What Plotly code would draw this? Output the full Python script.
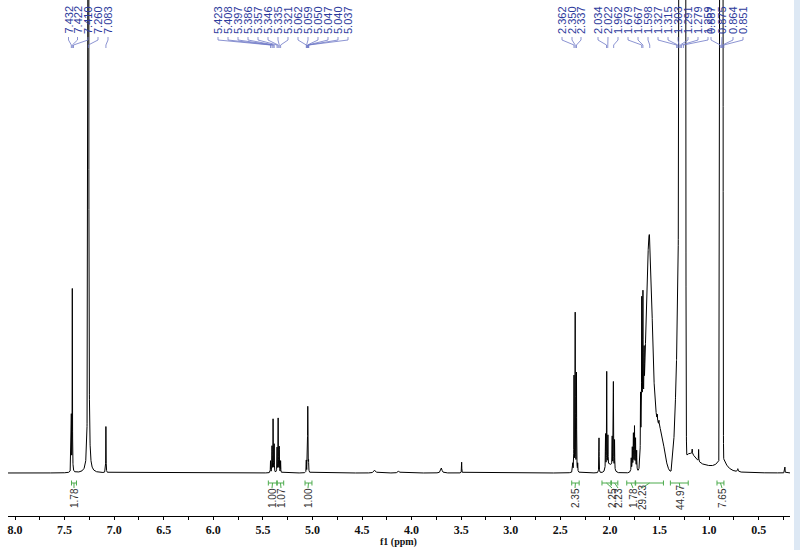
import numpy as np
import plotly.graph_objects as go

# ---------------- data ----------------
# sharp (Lorentzian) lines: position (ppm), height, half width (ppm)
line_ppm = [7.432, 7.422, 7.260, 7.083,
            5.423, 5.408, 5.397, 5.386, 5.357, 5.346, 5.335, 5.321,
            5.062, 5.050, 5.047, 5.040,
            4.372, 4.130, 3.700, 3.495,
            2.374, 2.362, 2.350, 2.337, 2.325, 2.110,
            2.044, 2.032, 2.020, 1.977, 1.965, 1.953,
            1.785, 1.774, 1.763, 1.752, 1.741, 1.730,
            1.691, 1.679, 1.667, 1.655,
            1.540, 1.522, 1.505, 1.170, 1.105,
            0.870, 0.710, 0.235]
line_height = [55, 183, 6000, 47,
               12, 26, 54, 28, 25, 54, 26, 12,
               12, 22, 62, 18,
               3, 2, 5, 11,
               8, 95, 158, 100, 8, 35,
               35, 96, 30, 30, 88, 30,
               12, 20, 32, 38, 28, 18,
               55, 120, 110, 45,
               8, 6, 5, 5, 12,
               14, 3, 6]
line_width = [0.0015, 0.0015, 0.0012, 0.0015,
              0.0015, 0.0015, 0.0015, 0.0015, 0.0015, 0.0015, 0.0015, 0.0015,
              0.0015, 0.0015, 0.0015, 0.0015,
              0.01, 0.01, 0.008, 0.0015,
              0.0015, 0.0015, 0.0015, 0.0015, 0.0015, 0.0015,
              0.0015, 0.0015, 0.0015, 0.0015, 0.0015, 0.0015,
              0.0015, 0.0015, 0.0015, 0.0015, 0.0015, 0.0015,
              0.0015, 0.0015, 0.0015, 0.0015,
              0.002, 0.002, 0.002, 0.002, 0.0015,
              0.05, 0.004, 0.0015]

# broad (Gaussian) components: position (ppm), height, sigma (ppm)
band_ppm = [2.000, 1.755, 1.672, 1.640, 1.605, 1.550, 1.480,
            1.350, 1.330, 1.315, 1.302,
            1.290, 1.278, 1.266, 1.254, 1.244,
            1.200, 1.080, 0.887, 0.875, 0.864]
band_height = [8, 8, 55, 25, 220, 45, 30,
               35, 90, 170, 400,
               2500, 2500, 2500, 2500, 2500,
               15, 7, 2800, 3500, 2600]
band_sigma = [0.03, 0.02, 0.014, 0.01, 0.028, 0.04, 0.035,
              0.012, 0.008, 0.006, 0.005,
              0.005, 0.005, 0.005, 0.005, 0.005,
              0.06, 0.12, 0.003, 0.003, 0.003]

# peak-pick labels (top)
pick_labels = ["7.432", "7.422", "7.410", "7.260", "7.083",
               "5.423", "5.408", "5.397", "5.386", "5.357", "5.346", "5.335",
               "5.321", "5.062", "5.059", "5.050", "5.047", "5.040", "5.037",
               "2.362", "2.350", "2.337", "2.034", "2.022", "1.962", "1.679",
               "1.667", "1.598", "1.327", "1.315", "1.303", "1.291", "1.279",
               "1.259", "0.887", "0.875", "0.864", "0.851"]

# integrals
int_from = [7.430, 5.445, 5.355, 5.075, 2.385, 2.080, 1.985, 1.830, 1.740, 1.390, 0.920]
int_to = [7.380, 5.360, 5.290, 5.005, 2.310, 1.990, 1.920, 1.745, 1.460, 1.210, 0.850]
int_values = ["1.78", "1.00", "1.07", "1.00", "2.35", "2.25", "2.23", "1.78",
              "29.23", "44.97", "7.65"]

# axis ticks
tick_values = [8.0, 7.5, 7.0, 6.5, 6.0, 5.5, 5.0, 4.5, 4.0, 3.5, 3.0, 2.5, 2.0, 1.5, 1.0, 0.5]
tick_labels = ["8.0", "7.5", "7.0", "6.5", "6.0", "5.5", "5.0", "4.5", "4.0",
               "3.5", "3.0", "2.5", "2.0", "1.5", "1.0", "0.5"]
minor_tick_values = [7.75, 7.25, 6.75, 6.25, 5.75, 5.25, 4.75, 4.25, 3.75,
                     3.25, 2.75, 2.25, 1.75, 1.25, 0.75, 0.25]

# ---------------- layout geometry ----------------
X_LEFT, X_RIGHT = 8.0706, 0.1836
Y_BOTTOM, Y_TOP = -43, 473
PXPP = 99.15


def ppm_to_px(p):
    return 15 + (8 - p) * PXPP


def px_to_ppm(px):
    return 8 - (px - 15) / PXPP


def py_to_y(py):
    return Y_TOP - py


pick_px = [68.5, 77.5, 88, 98, 108] + [218 + 10 * i for i in range(14)] + \
          [562, 572, 581, 598, 608, 618, 628, 638, 648, 658, 668, 678, 688, 698,
           708, 711, 722, 733, 743]
int_label_px = [74, 272, 281, 308, 575, 612, 618, 633, 642, 680, 722]

# ---------------- spectrum ----------------
x = np.arange(X_RIGHT, X_LEFT, 0.0004)
y = np.zeros_like(x)
for p, h, w in zip(line_ppm, line_height, line_width):
    y += h / (1 + ((x - p) / w) ** 2)
for p, h, s in zip(band_ppm, band_height, band_sigma):
    y += h * np.exp(-0.5 * ((x - p) / s) ** 2)

fig = go.Figure()
fig.add_trace(go.Scatter(x=x, y=y, mode="lines",
                         line=dict(color="#000000", width=1),
                         hoverinfo="skip"))

# connectors for peak labels
cx, cy = [], []
for lab, px in zip(pick_labels, pick_px):
    ppx = ppm_to_px(float(lab))
    cx += [px_to_ppm(px), px_to_ppm(px), px_to_ppm(ppx), px_to_ppm(ppx), None]
    cy += [py_to_y(37), py_to_y(40), py_to_y(45), py_to_y(48), None]
fig.add_trace(go.Scatter(x=cx, y=cy, mode="lines",
                         line=dict(color="#6f78c6", width=0.8),
                         hoverinfo="skip", cliponaxis=False))

# integral markers
ix, iy = [], []
for a, b, lp in zip(int_from, int_to, int_label_px):
    yb = py_to_y(483)
    ix += [a, b, None, a, a, None, b, b, None]
    iy += [yb, yb, None, yb - 2.5, yb + 2.5, None, yb - 2.5, yb + 2.5, None]
    mid = (a + b) / 2
    ix += [mid, px_to_ppm(lp), None]
    iy += [yb, py_to_y(488), None]
fig.add_trace(go.Scatter(x=ix, y=iy, mode="lines",
                         line=dict(color="#4dab4d", width=1),
                         hoverinfo="skip", cliponaxis=False))

annotations = []
for lab, px in zip(pick_labels, pick_px):
    annotations.append(dict(x=px_to_ppm(px), y=py_to_y(20), xref="x", yref="y",
                            text=lab, showarrow=False, textangle=-90,
                            xanchor="center", yanchor="middle",
                            font=dict(family="Liberation Sans", size=11, color="#2c3a9c")))
for val, px in zip(int_values, int_label_px):
    annotations.append(dict(x=px_to_ppm(px), y=py_to_y(498), xref="x", yref="y",
                            text=val, showarrow=False, textangle=-90,
                            xanchor="center", yanchor="middle",
                            font=dict(family="Liberation Sans", size=10, color="#333333")))
annotations.append(dict(x=px_to_ppm(398), y=-26 / 516, xref="x", yref="paper",
                        text="f1 (ppm)", showarrow=False, xanchor="center", yanchor="middle",
                        font=dict(family="Liberation Serif", size=10, color="#111111",
                                  weight="bold")))

fig.update_layout(
    width=800, height=550,
    margin=dict(l=8, r=10, t=0, b=34),
    paper_bgcolor="white", plot_bgcolor="white",
    showlegend=False,
    annotations=annotations,
    xaxis=dict(range=[X_LEFT, X_RIGHT], showgrid=False, zeroline=False,
               showline=True, linecolor="#000000", linewidth=1,
               ticks="outside", ticklen=3, tickcolor="#000000",
               tickmode="array", tickvals=tick_values, ticktext=tick_labels,
               tickfont=dict(family="Liberation Serif", size=12, color="#111111",
                             weight="bold"),
               minor=dict(tickvals=minor_tick_values, ticks="outside", ticklen=3,
                          tickcolor="#000000", showgrid=False)),
    yaxis=dict(range=[Y_BOTTOM, Y_TOP], visible=False, showgrid=False, zeroline=False),
    shapes=[dict(type="rect", xref="paper", yref="paper",
                 x0=(794 - 8) / 782, x1=(800 - 8) / 782, y0=-34 / 516, y1=1,
                 fillcolor="#dde8f4", line=dict(width=0), layer="below")],
)

fig.write_html("out.html",
               config={"displayModeBar": False},
               post_script="document.body.style.margin='0px';document.body.style.overflow='hidden';")
